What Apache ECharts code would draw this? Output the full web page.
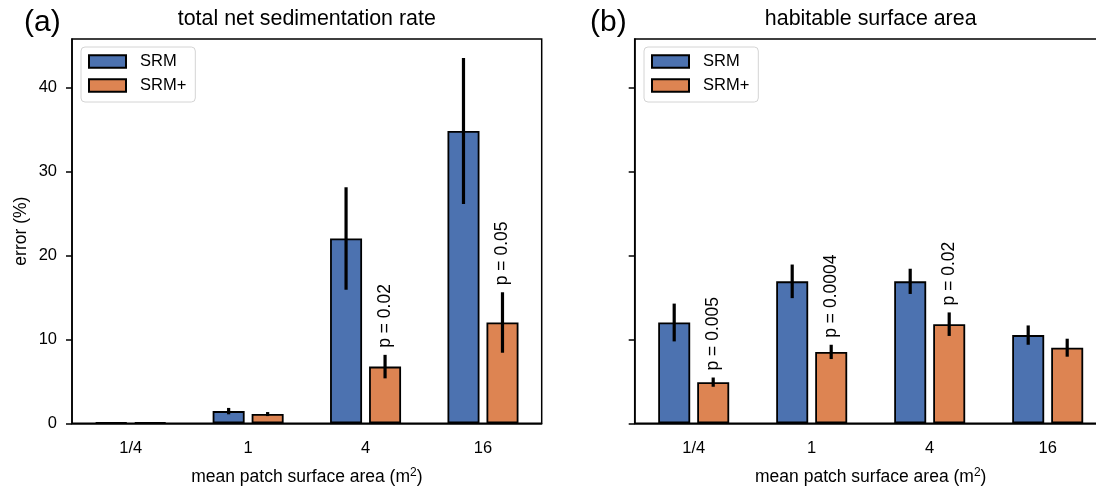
<!DOCTYPE html>
<html>
<head>
<meta charset="utf-8">
<script src="https://cdn.jsdelivr.net/npm/echarts@6/dist/echarts.min.js"></script>
<style>
  html, body { margin: 0; padding: 0; background: #fff; }
  #chart { width: 1096px; height: 487px; }
</style>
</head>
<body>
<div id="chart"></div>
<script>
// Patch size classes shared by both panels
const categories = ['1/4', '1', '4', '16'];
const yTicks = [0, 10, 20, 30, 40];

// (a) total net sedimentation rate: mean error and error-bar half length (%)
const sedSRM = [0.1, 1.45, 22.0, 34.8];
const sedSRMErr = [0.02, 0.38, 6.1, 8.7];
const sedSRMPlus = [0.12, 1.1, 6.75, 12.0];
const sedSRMPlusErr = [0.02, 0.24, 1.4, 3.6];
const sedP = ['', '', 'p = 0.02', 'p = 0.05'];

// (b) habitable surface area
const habSRM = [12.0, 16.9, 16.9, 10.5];
const habSRMErr = [2.25, 2.0, 1.5, 1.15];
const habSRMPlus = [4.9, 8.5, 11.8, 9.0];
const habSRMPlusErr = [0.55, 0.85, 1.4, 1.07];
const habP = ['p = 0.005', 'p = 0.0004', 'p = 0.02', ''];

const FONT = 'Liberation Sans, Arial, sans-serif';
const BLUE = '#4c72b0';
const ORANGE = '#dd8452';
const BAR_W = 32;
const BAR_GAP = 7;
const HALF_STEP = (BAR_W + BAR_GAP) / 2;
const Y_MAX = 45.75;

const chart = echarts.init(document.getElementById('chart'), null, { renderer: 'canvas' });

function errorRows(values, errs, side) {
  return values.map((v, i) => [i, v, errs[i], side]);
}

function errorSeries(idx, values, errs, side) {
  return {
    type: 'custom',
    xAxisIndex: idx,
    yAxisIndex: idx,
    silent: true,
    z: 5,
    encode: { x: 0, y: 1 },
    data: errorRows(values, errs, side),
    renderItem: function (params, api) {
      const c = api.value(0), v = api.value(1), e = api.value(2), s = api.value(3);
      const lo = api.coord([c, v - e]);
      const hi = api.coord([c, v + e]);
      const x = lo[0] + s * HALF_STEP;
      return {
        type: 'line',
        shape: { x1: x, y1: lo[1], x2: x, y2: hi[1] },
        style: { stroke: '#000', lineWidth: 3.2 }
      };
    }
  };
}

function pLabelSeries(idx, values, errs, labels) {
  const rows = [];
  labels.forEach((t, i) => { if (t) rows.push([i, values[i] + errs[i], t]); });
  return {
    type: 'custom',
    xAxisIndex: idx,
    yAxisIndex: idx,
    silent: true,
    z: 6,
    encode: { x: 0, y: 1 },
    data: rows,
    renderItem: function (params, api) {
      const p = api.coord([api.value(0), api.value(1)]);
      return {
        type: 'text',
        x: p[0] + HALF_STEP,
        y: p[1] - 7,
        rotation: Math.PI / 2,
        style: {
          text: rows[params.dataIndex][2],
          x: 0, y: 0,
          align: 'left',
          verticalAlign: 'middle',
          fill: '#000',
          font: '17.5px ' + FONT
        }
      };
    }
  };
}

function barSeries(idx, name, values, color) {
  return {
    type: 'bar',
    name: name,
    xAxisIndex: idx,
    yAxisIndex: idx,
    data: values,
    barWidth: BAR_W,
    barGap: (BAR_GAP / BAR_W * 100) + '%',
    itemStyle: { color: color, borderColor: '#000', borderWidth: 1.8 },
    emphasis: { disabled: true },
    z: 3
  };
}

function xAxisFor(idx) {
  return {
    gridIndex: idx,
    type: 'category',
    data: categories,
    boundaryGap: true,
    axisLine: { lineStyle: { color: '#000', width: 1.5 } },
    axisTick: { alignWithLabel: true, length: 6, lineStyle: { color: '#000', width: 1.5 } },
    axisLabel: { color: '#000', fontSize: 16.5, fontFamily: FONT, margin: 17 },
    name: 'mean patch surface area (m{sup|2})',
    nameLocation: 'middle',
    nameGap: 43,
    nameTextStyle: {
      color: '#000', fontSize: 17.5, fontFamily: FONT,
      rich: { sup: { fontSize: 12, fontFamily: FONT, color: '#000', verticalAlign: 'top', padding: [0, 0, 10, 0] } }
    }
  };
}

function yAxisFor(idx, showLabels) {
  return {
    gridIndex: idx,
    type: 'value',
    min: 0,
    max: Y_MAX,
    interval: 10,
    splitLine: { show: false },
    axisLine: { show: true, lineStyle: { color: '#000', width: 1.5 } },
    axisTick: { show: true, length: 6, customValues: yTicks, lineStyle: { color: '#000', width: 1.5 } },
    axisLabel: { show: showLabels, customValues: yTicks, color: '#000', fontSize: 16.5, fontFamily: FONT, margin: 15 },
    name: showLabels ? 'error (%)' : '',
    nameLocation: 'middle',
    nameGap: 42,
    nameTextStyle: { color: '#000', fontSize: 17.5, fontFamily: FONT }
  };
}

function legendFor(left) {
  return {
    left: left,
    top: 47,
    orient: 'vertical',
    data: ['SRM', 'SRM+'],
    icon: 'rect',
    itemWidth: 37,
    itemHeight: 12.5,
    itemGap: 5,
    padding: [5, 9, 7, 7],
    backgroundColor: 'rgba(255,255,255,0.8)',
    borderColor: '#d4d4d4',
    borderWidth: 1,
    borderRadius: 4,
    selectedMode: false,
    textStyle: { color: '#000', fontSize: 16.5, fontFamily: FONT, lineHeight: 19, padding: [0, 0, 0, 9] }
  };
}

function panelText(text, x, y, size, align) {
  return {
    type: 'text',
    x: x, y: y,
    style: { text: text, font: size + 'px ' + FONT, fill: '#000', align: align, verticalAlign: 'middle' }
  };
}

function gridAt(left, width) {
  return {
    left: left, top: 39, width: width, height: 384.3,
    outerBoundsMode: 'none',
    containLabel: false,
    show: true, borderColor: '#000', borderWidth: 1.5, backgroundColor: 'transparent'
  };
}

const option = {
  animation: false,
  backgroundColor: '#fff',
  grid: [gridAt(72, 469.7), gridAt(634.7, 472)],
  xAxis: [xAxisFor(0), xAxisFor(1)],
  yAxis: [yAxisFor(0, true), yAxisFor(1, false)],
  legend: [legendFor(81), legendFor(644)],
  graphic: [
    panelText('(a)', 24, 23, 30, 'left'),
    panelText('total net sedimentation rate', 306.8, 19, 21.4, 'center'),
    panelText('(b)', 590, 23, 30, 'left'),
    panelText('habitable surface area', 870.7, 19, 21.4, 'center')
  ],
  series: [
    barSeries(0, 'SRM', sedSRM, BLUE),
    barSeries(0, 'SRM+', sedSRMPlus, ORANGE),
    errorSeries(0, sedSRM, sedSRMErr, -1),
    errorSeries(0, sedSRMPlus, sedSRMPlusErr, 1),
    pLabelSeries(0, sedSRMPlus, sedSRMPlusErr, sedP),
    barSeries(1, 'SRM', habSRM, BLUE),
    barSeries(1, 'SRM+', habSRMPlus, ORANGE),
    errorSeries(1, habSRM, habSRMErr, -1),
    errorSeries(1, habSRMPlus, habSRMPlusErr, 1),
    pLabelSeries(1, habSRMPlus, habSRMPlusErr, habP)
  ]
};

chart.setOption(option);
</script>
</body>
</html>
